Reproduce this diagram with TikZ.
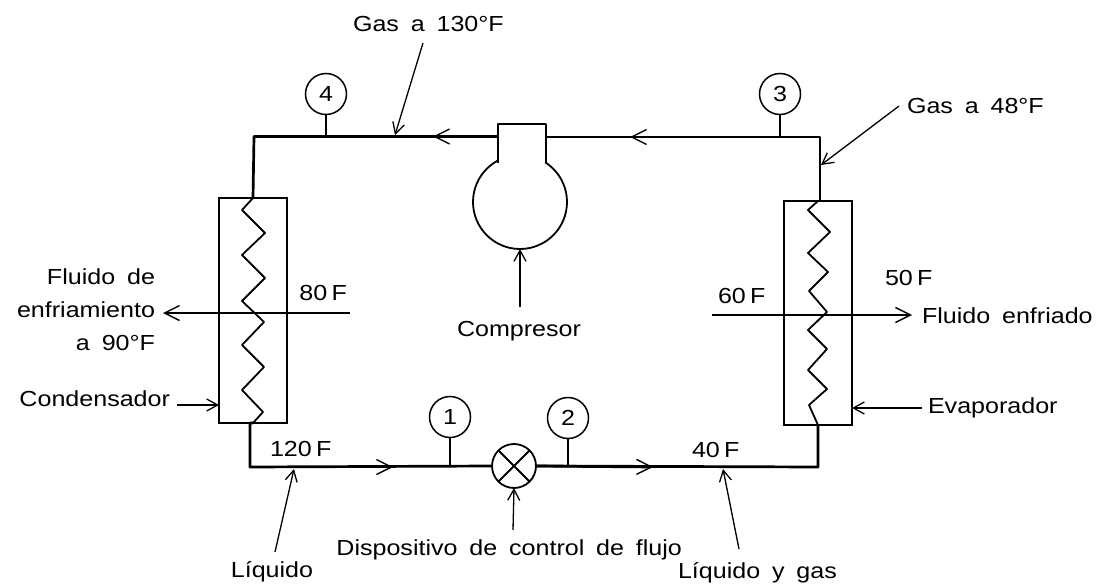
\documentclass[tikz,border=0pt]{standalone}
\usepackage{fontspec}
\setmainfont[WordSpace=1.7,FakeStretch=1.15]{Liberation Sans}
\usetikzlibrary{arrows.meta}

\begin{document}
\begin{tikzpicture}[
    x = 1pt, y = -1pt,
    outer sep = 0mm, inner sep = 0mm,
    font = \fontsize{21.8}{26}\selectfont,
    pipe/.style = {line width = 2.7pt, line join = round},
    thin line/.style = {line width = 1.8pt, line join = round},
    flow/.style = {-{Straight Barb[length = 15pt, width = 15pt, line width = 1.4pt]}},
    lead/.style = {line width = 1.3pt, -{Straight Barb[length = 11pt, width = 12pt, line width = 1.3pt]}},
    temp/.style = {execute at begin node = {\spaceskip = .2em\relax}},
    gauge/.style = {
      circle, draw = black, line width = 1.5pt, fill = white,
      minimum size = 41pt,
    },
    exchanger/.style = {
      rectangle, draw = black, line width = 1.8pt,
      minimum width = 68pt,
    },
  ]
  \useasboundingbox (0,0) rectangle (1098,586);

  % exchangers
  \node[exchanger, minimum height = 225pt] (cond) at (253,310.5) {};
  \node[exchanger, minimum height = 224pt] (evap) at (818,313) {};

  % zigzag coils
  \draw[thin line] (cond.north)
    to ++(-11,12) to ++(23,23) to ++(-23,22) to ++(23,23) to ++(-23,23)
    to ++(22,21) to ++(-22,23) to ++(22,22) to ++(-22,23) to ++(21,22)
    to (cond.south);
  \draw[thin line] (evap.north)
    to ++(-10,9) to ++(22,22) to ++(-22,21) to ++(20,19) to ++(-19,19)
    to ++(18,21) to ++(-19,18) to ++(19,19) to ++(-19,21) to ++(19,19)
    to ++(-18,16) to (evap.south);

  % compressor and valve
  \node[circle, draw = black, line width = 1.8pt, fill = white, minimum size = 94pt] (comp) at (520,202) {};
  \node[circle, draw = black, line width = 1.8pt, fill = white, minimum size = 44pt] (valve) at (514,466) {};
  \draw[thin line] (valve.45) to (valve.225);
  \draw[thin line] (valve.135) to (valve.315);
  \draw[thin line, fill = white] (498,163) to (498,124) to (546,124) to (546,163);

  % gauges
  \node[gauge] (g4) at (326,94) {4};
  \node[gauge] (g3) at (780,94) {3};
  \node[gauge] (g1) at (450,417) {1};
  \node[gauge] (g2) at (568,418) {2};
  \coordinate (c4) at (254,136.5);
  \coordinate (c3) at (820,137);
  \coordinate (c1) at (250,467);
  \coordinate (c2) at (818,467);
  \draw[thin line] (g4) to (g4 |- c4);
  \draw[thin line] (g3) to (g3 |- c3);
  \draw[thin line] (g1) to (g1 |- c1);
  \draw[thin line] (g2) to (g2 |- c2);

  % pipes
  \draw[pipe] (evap.north) ++(2,0) to (c3) to (546,137);
  \draw[pipe, flow] (c3) to (630,137);
  \draw[pipe, flow] (498,136.5) to (433,136.5);
  \draw[pipe] (498,136.5) to (c4) to (cond.north);
  \draw[pipe] (cond.south) to (c1 |- cond.south) to (c1) to (valve.west);
  \draw[pipe, flow] (c1) to (393,467);
  \draw[pipe] (valve.east) to (c2) to (c2 |- evap.south);
  \draw[pipe, flow] (valve.east) to (653,467);

  % cooling water lines
  \draw[pipe, flow] (350,313) to (163,313);
  \draw[pipe, flow] (712,315) to (912,315);

  % labels and leaders
  \node[anchor = west] (gas130) at (353,24) {Gas a 130°F};
  \coordinate (t130) at (395,135);
  \draw[lead] (423,43) to (t130);
  \node[anchor = west] (gas48) at (907,106) {Gas a 48°F};
  \coordinate (t48) at (821,165);
  \draw[lead] (gas48.west) ++(-8,0) to (t48);
  \node (lcomp) at (519,331) {Compresor};
  \draw[lead] (520,307) to (comp.south);
  \node[anchor = east, align = right] (lfluid) at (155,310) {Fluido de\\[7pt]enfriamiento\\[7pt]a 90°F};
  \node[temp, anchor = east] (l80) at (347,293) {80 F};
  \node[temp, anchor = west] (l60) at (718,296) {60 F};
  \node[temp, anchor = west] (l50) at (885,278) {50 F};
  \node[anchor = west] (lcooled) at (922,316) {Fluido enfriado};
  \node[anchor = east] (lcond) at (170,399) {Condensador};
  \coordinate (tcond) at (cond.west |- 0,405);
  \draw[lead] (177,405) to (tcond);
  \node[anchor = west] (levap) at (928,408) {Evaporador};
  \coordinate (tevap) at (evap.east |- 0,408);
  \draw[lead] (levap.west) ++(-6,0) to (tevap);
  \node[temp, anchor = west] (l120) at (270,449) {120 F};
  \node[temp, anchor = west] (l40) at (692,450) {40 F};
  \node[anchor = east] (ldev) at (682,550) {Dispositivo de control de flujo};
  \draw[lead] (513,530) to (valve.south);
  \node (lliq) at (272,572) {Líquido};
  \coordinate (tliq) at (294,469);
  \draw[lead] (275,552) to (tliq);
  \node[anchor = west] (lmix) at (678,573) {Líquido y gas};
  \coordinate (tmix) at (723,469);
  \draw[lead] (739,549) to (tmix);
\end{tikzpicture}
\end{document}
